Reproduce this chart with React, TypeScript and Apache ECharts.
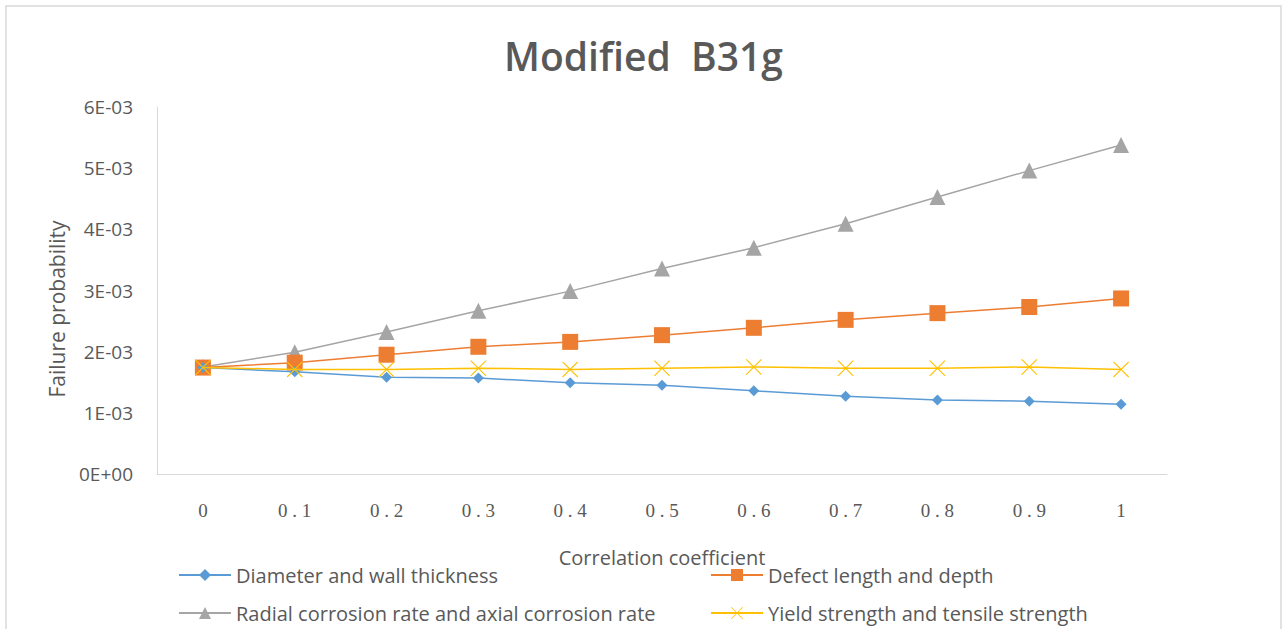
import React, { useEffect, useRef } from "react";
import * as echarts from "echarts";

const categories = ["0", "0.1", "0.2", "0.3", "0.4", "0.5", "0.6", "0.7", "0.8", "0.9", "1"];
const diameterWall = [1.74e-3, 1.67e-3, 1.58e-3, 1.57e-3, 1.49e-3, 1.45e-3, 1.36e-3, 1.27e-3, 1.21e-3, 1.19e-3, 1.14e-3];
const defectLengthDepth = [1.74e-3, 1.82e-3, 1.95e-3, 2.08e-3, 2.16e-3, 2.27e-3, 2.39e-3, 2.52e-3, 2.63e-3, 2.73e-3, 2.87e-3];
const radialAxialRate = [1.75e-3, 1.99e-3, 2.32e-3, 2.67e-3, 2.99e-3, 3.36e-3, 3.70e-3, 4.09e-3, 4.53e-3, 4.96e-3, 5.38e-3];
const yieldTensile = [1.74e-3, 1.71e-3, 1.71e-3, 1.73e-3, 1.71e-3, 1.73e-3, 1.75e-3, 1.73e-3, 1.73e-3, 1.75e-3, 1.71e-3];
const seriesNames = [
  "Diameter and wall thickness",
  "Defect length and depth",
  "Radial corrosion rate and axial corrosion rate",
  "Yield strength and tensile strength",
];

const X_SYMBOL =
  "path://M0,1 L1,0 L10,9 L19,0 L20,1 L11,10 L20,19 L19,20 L10,11 L1,20 L0,19 L9,10 Z";

export default function App() {
  const ref = useRef<HTMLDivElement>(null);
  useEffect(() => {
    if (!ref.current) return;
    const chart = echarts.init(ref.current, null, { renderer: "svg" });
    const textColor = "#595959";
    const font = "Open Sans";
    const legendCommon = {
      orient: "vertical",
      top: 565,
      height: 90,
      itemWidth: 52,
      itemHeight: 15,
      itemGap: 18,
      padding: 0,
      textStyle: { fontFamily: font, fontSize: 20, color: textColor, padding: [0, 0, 0, 0] },
    };
    chart.setOption({
      animation: false,
      backgroundColor: "#ffffff",
      title: {
        text: "Modified  B31g",
        left: "center",
        top: 31,
        textStyle: { fontFamily: font, fontSize: 39, fontWeight: 600, color: textColor },
      },
      grid: { left: 157, right: 120, top: 107, bottom: 155, containLabel: false },
      xAxis: {
        type: "category",
        data: categories,
        boundaryGap: true,
        axisLine: { lineStyle: { color: "#d9d9d9", width: 1 } },
        axisTick: { show: false },
        axisLabel: {
          margin: 27,
          fontFamily: "Liberation Serif",
          fontSize: 19,
          color: textColor,
          formatter: (s: string) => s.split("").join(" "),
        },
        name: "Correlation coefficient",
        nameLocation: "middle",
        nameGap: 73,
        nameTextStyle: { fontFamily: font, fontSize: 20, color: textColor },
      },
      yAxis: {
        type: "value",
        min: 0,
        max: 0.006,
        interval: 0.001,
        axisLine: { show: true, lineStyle: { color: "#d9d9d9", width: 1 } },
        axisTick: { show: false },
        splitLine: { show: false },
        axisLabel: {
          margin: 24,
          fontFamily: font,
          fontSize: 19,
          color: textColor,
          formatter: (v: number) => (v === 0 ? "0E+00" : `${Math.round(v * 1000)}E-03`),
        },
      },
      legend: [
        { ...legendCommon, data: [seriesNames[0], seriesNames[2]], left: 178 },
        { ...legendCommon, data: [seriesNames[1], seriesNames[3]], left: 710 },
      ],
      graphic: [
        {
          type: "rect",
          shape: { x: 6, y: 6, width: 1275, height: 640 },
          style: { fill: "none", stroke: "#d9d9d9", lineWidth: 1.5 },
          silent: true,
        },
        {
          type: "text",
          x: 57,
          y: 309,
          rotation: Math.PI / 2,
          style: {
            text: "Failure probability",
            fontFamily: font,
            fontSize: 21,
            fill: textColor,
            textAlign: "center",
            textVerticalAlign: "middle",
          },
        },
      ],
      series: [
        {
          name: seriesNames[0],
          type: "line",
          data: diameterWall,
          symbol: "diamond",
          symbolSize: 11,
          color: "#5B9BD5",
          lineStyle: { width: 1.5, color: "#5B9BD5" },
          z: 4,
        },
        {
          name: seriesNames[1],
          type: "line",
          data: defectLengthDepth,
          symbol: "rect",
          symbolSize: 16,
          color: "#ED7D31",
          lineStyle: { width: 1.5, color: "#ED7D31" },
          z: 3,
        },
        {
          name: seriesNames[2],
          type: "line",
          data: radialAxialRate,
          symbol: "triangle",
          symbolSize: 16,
          color: "#A5A5A5",
          lineStyle: { width: 1.5, color: "#A5A5A5" },
          z: 2,
        },
        {
          name: seriesNames[3],
          type: "line",
          data: yieldTensile,
          symbol: X_SYMBOL,
          symbolSize: 16,
          color: "#FFC000",
          lineStyle: { width: 1.5, color: "#FFC000" },
          z: 5,
        },
      ],
    });
    return () => chart.dispose();
  }, []);
  return (
    <div
      ref={ref}
      style={{ position: "fixed", left: 0, top: 0, width: 1287, height: 629 }}
    />
  );
}
